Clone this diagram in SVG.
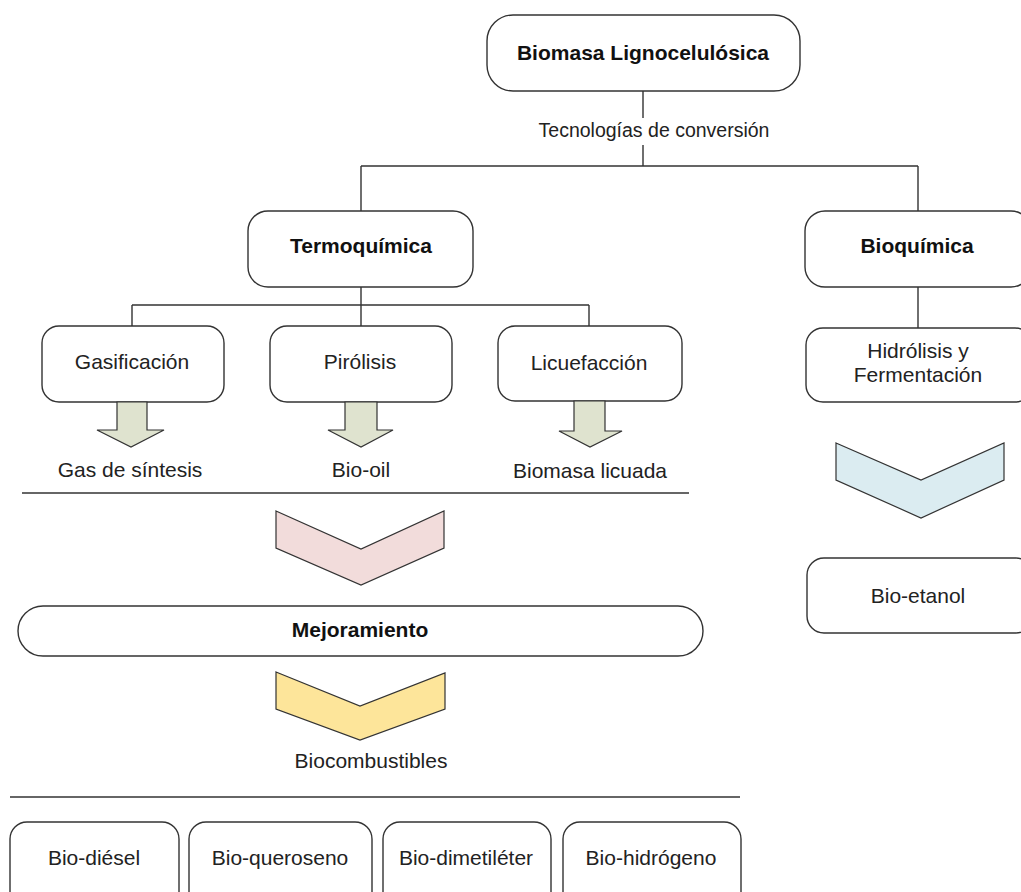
<svg xmlns="http://www.w3.org/2000/svg" width="1021" height="892" viewBox="0 0 1021 892">
<style>
.box{fill:#fff;stroke:#333;stroke-width:1.4}
.ln{fill:none;stroke:#333;stroke-width:1.4}
.t{font-family:"Liberation Sans",Arial,sans-serif;font-size:21px;fill:#222;text-anchor:middle}
.b{font-weight:bold;fill:#111}
.s{font-size:19.5px}
.arr{fill:#dfe3cf;stroke:#333;stroke-width:1.2}
</style>
<rect width="1021" height="892" fill="#fff"/>
<g id="connectors">
<path class="ln" d="M643 91V118M643 145V166M361 166H918M361 166V211M918 166V211"/>
<path class="ln" d="M361 287V305M132 305H589M132 305V326M361 305V326M589 305V326"/>
<path class="ln" d="M918 287V328"/>
<path class="ln" d="M22 493H689"/>
<path class="ln" d="M10 797H740"/>
</g>
<g id="n-biomasa"><rect class="box" x="487" y="15" width="313" height="76" rx="26"/><text class="t b" x="643" y="60">Biomasa Lignocelulósica</text></g>
<g id="l-tecnologias"><text class="t s" x="654" y="137">Tecnologías de conversión</text></g>
<g id="n-termo"><rect class="box" x="248" y="211" width="225" height="76" rx="20"/><text class="t b" x="361" y="253">Termoquímica</text></g>
<g id="n-bioq"><rect class="box" x="805" y="211" width="226" height="76" rx="20"/><text class="t b" x="917" y="253">Bioquímica</text></g>
<g id="n-gasif"><rect class="box" x="42" y="326" width="182" height="76" rx="17"/><text class="t" x="132" y="369">Gasificación</text></g>
<g id="n-piro"><rect class="box" x="270" y="326" width="182" height="76" rx="17"/><text class="t" x="360" y="369">Pirólisis</text></g>
<g id="n-licue"><rect class="box" x="498" y="326" width="184" height="75" rx="17"/><text class="t" x="589" y="370">Licuefacción</text></g>
<g id="n-hidro"><rect class="box" x="806" y="328" width="226" height="74" rx="17"/><text class="t" x="918" y="358">Hidrólisis y</text><text class="t" x="918" y="382">Fermentación</text></g>
<g id="a-gasif"><polygon class="arr" points="117,402 147,402 147,430 164,430 131,447 97,430 117,430"/></g>
<g id="a-piro"><polygon class="arr" points="345,402 377,402 377,430 393,430 361,447 328,430 345,430"/></g>
<g id="a-licue"><polygon class="arr" points="574,401 605,401 605,431 622,431 590,447 559,431 574,431"/></g>
<g id="l-gas"><text class="t" x="130" y="477">Gas de síntesis</text></g>
<g id="l-biooil"><text class="t" x="361" y="477">Bio-oil</text></g>
<g id="l-licuada"><text class="t" x="590" y="478">Biomasa licuada</text></g>
<g id="c-pink"><polygon fill="#f2dcdb" stroke="#333" stroke-width="1.2" points="276,511 361,549 444,511 444,548 361,585 276,548"/></g>
<g id="c-blue"><polygon fill="#dbecf1" stroke="#333" stroke-width="1.2" points="836,443 921,480 1004,443 1004,480 921,518 836,480"/></g>
<g id="n-mejora"><rect class="box" x="18" y="606" width="685" height="50" rx="25"/><text class="t b" x="360" y="637">Mejoramiento</text></g>
<g id="c-yellow"><polygon fill="#fde59a" stroke="#333" stroke-width="1.2" points="276,672 360,706 445,673 445,709 360,740 276,709"/></g>
<g id="l-biocomb"><text class="t" x="371" y="768">Biocombustibles</text></g>
<g id="n-etanol"><rect class="box" x="807" y="558" width="226" height="75" rx="17"/><text class="t" x="918" y="603">Bio-etanol</text></g>
<g id="n-diesel"><rect class="box" x="10" y="822" width="169" height="90" rx="17"/><text class="t" x="94" y="865">Bio-diésel</text></g>
<g id="n-querosen"><rect class="box" x="189" y="822" width="183" height="90" rx="17"/><text class="t" x="280" y="865">Bio-queroseno</text></g>
<g id="n-dimet"><rect class="box" x="383" y="822" width="168" height="90" rx="17"/><text class="t" x="466" y="865">Bio-dimetiléter</text></g>
<g id="n-hidrog"><rect class="box" x="563" y="822" width="178" height="90" rx="17"/><text class="t" x="651" y="865">Bio-hidrógeno</text></g>
</svg>
